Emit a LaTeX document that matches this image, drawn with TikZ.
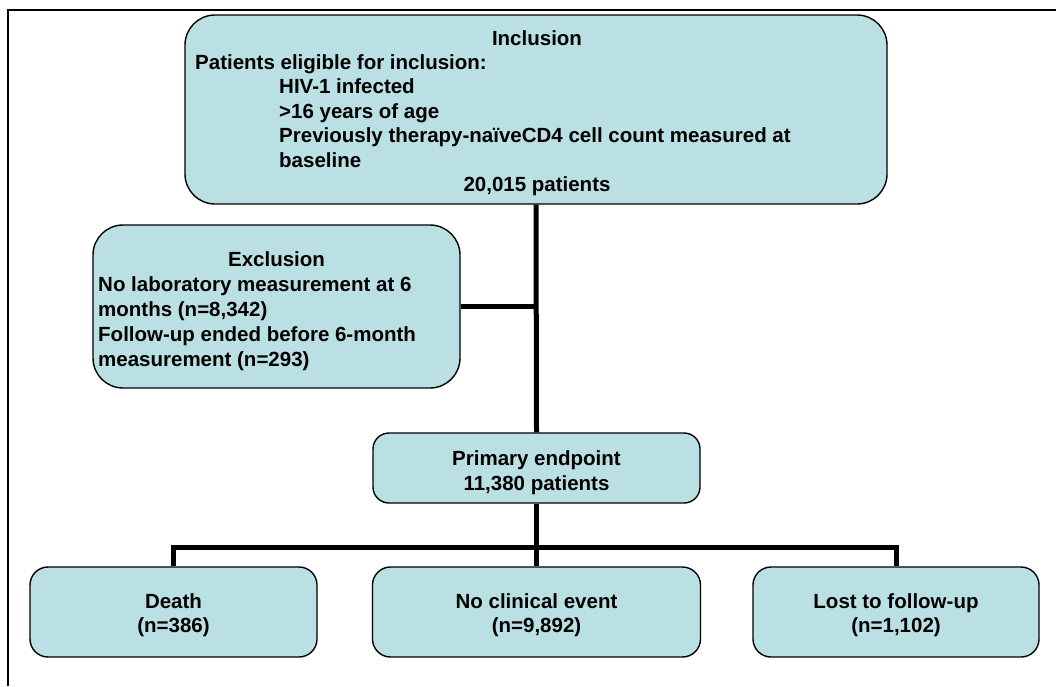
\documentclass[tikz,border=0pt]{standalone}
\usepackage{fontspec}
\setmainfont{Liberation Sans}
\definecolor{boxfill}{RGB}{187,224,227}
\begin{document}
\begin{tikzpicture}[x=1pt,y=-1pt,
  box/.style={draw=black, line width=1.4pt, fill=boxfill, rounded corners=#1, inner sep=0pt},
  box/.default=16pt,
  txt/.style={inner sep=0pt, font=\fontsize{20.5}{24.5}\selectfont\bfseries},
  conn/.style={line width=5pt, black}]
\useasboundingbox (0,0) rectangle (1056,686);
\draw[line width=2pt] (8,686) -- (8,10) -- (1056,10);
% boxes
\node[box=30pt, minimum width=702pt, minimum height=189pt] (inc) at (536,109.5) {};
\node[box=30pt, minimum width=367pt, minimum height=163pt] (exc) at (276.5,306.5) {};
\node[box=16pt, minimum width=327pt, minimum height=70pt] (pri) at (536.5,468) {};
\node[box=18pt, minimum width=287pt, minimum height=90pt] (death) at (173.5,612) {};
\node[box=18pt, minimum width=328pt, minimum height=90pt] (noev) at (536.5,612) {};
\node[box=18pt, minimum width=286pt, minimum height=90pt] (lost) at (896,612) {};
% connectors
\coordinate (ej) at (536.5,306.5);
\coordinate (bj) at (536.5,547);
\draw[conn] (inc.south) -- (pri.north);
\draw[conn] (exc.east) -- (ej);
\draw[conn] (pri.south) -- (noev.north);
\draw[conn] (death.north) |- (bj) -| (lost.north);
% inclusion text
\node[txt, anchor=base] (t1) at (537,45) {Inclusion};
\node[txt, anchor=base west] (t2) at (195,69) {Patients eligible for inclusion:};
\node[txt, anchor=base west] (t3) at (279,93.5) {HIV-1 infected};
\node[txt, anchor=base west] (t4) at (279,118) {>16 years of age};
\node[txt, anchor=base west] (t5) at (279,142.5) {Previously therapy-naïveCD4 cell count measured at};
\node[txt, anchor=base west] (t6) at (279,167) {baseline};
\node[txt, anchor=base] (t7) at (537,191.5) {20,015 patients};
% exclusion text
\node[txt, anchor=base] (e1) at (276.5,266.5) {Exclusion};
\node[txt, anchor=base west] (e2) at (98,291.5) {No laboratory measurement at 6};
\node[txt, anchor=base west] (e3) at (98,316.5) {months (n=8,342)};
\node[txt, anchor=base west] (e4) at (98,341.5) {Follow-up ended before 6-month};
\node[txt, anchor=base west] (e5) at (98,366.5) {measurement (n=293)};
% primary
\node[txt, anchor=base] (p1) at (536.5,465.5) {Primary endpoint};
\node[txt, anchor=base] (p2) at (536.5,490) {11,380 patients};
% bottom
\node[txt, anchor=base] (d1) at (173.5,608) {Death};
\node[txt, anchor=base] (d2) at (173.5,632.5) {(n=386)};
\node[txt, anchor=base] (n1) at (536.5,608) {No clinical event};
\node[txt, anchor=base] (n2) at (536.5,632.5) {(n=9,892)};
\node[txt, anchor=base] (l1) at (896,608) {Lost to follow-up};
\node[txt, anchor=base] (l2) at (896,632.5) {(n=1,102)};
\end{tikzpicture}
\end{document}
